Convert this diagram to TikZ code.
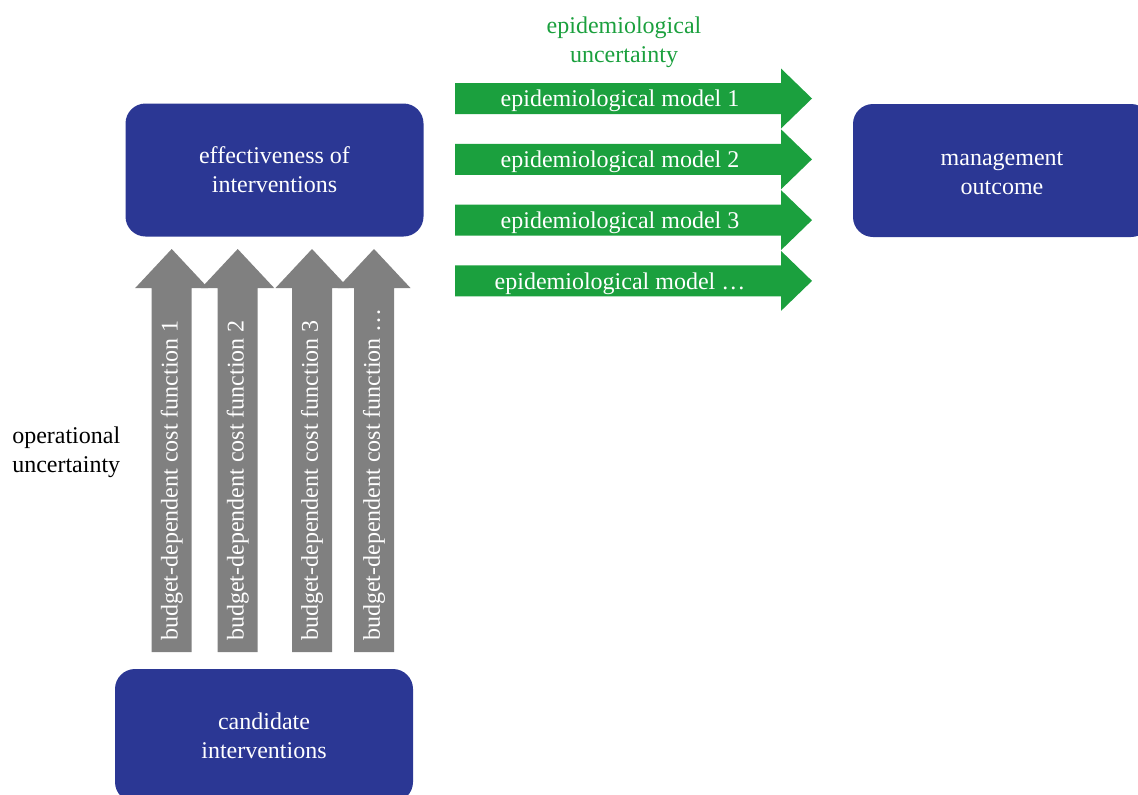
\documentclass[tikz,border=0pt]{standalone}
\usepackage{fontspec}
\setmainfont{Liberation Serif}
\definecolor{boxblue}{RGB}{43,55,148}
\definecolor{epigreen}{RGB}{27,160,62}
\definecolor{opgray}{RGB}{128,128,128}
\begin{document}
\begin{tikzpicture}[x=0.75pt,y=-0.75pt,
  font=\fontsize{18}{21.75}\selectfont,
  box/.style={fill=boxblue, rounded corners=15pt, text=white, align=center,
    minimum width=223.5pt, minimum height=99.75pt, inner sep=0pt},
  lbl/.style={text=white, inner sep=0pt}]
\useasboundingbox (0,0) rectangle (1138,794);
\clip (0,0) rectangle (1138,794);

% green arrows (epidemiological models)
\foreach \i/\t in {1/1,2/2,3/3,4/…} {
  \pgfmathsetmacro\yc{98.5+60.8*(\i-1)}
  \fill[epigreen] (455,\yc-15.5) -- (781,\yc-15.5) -- (781,\yc-30) -- (812,\yc)
     -- (781,\yc+30) -- (781,\yc+15.5) -- (455,\yc+15.5) -- cycle;
  \node[lbl] (epi\i) at (620,\yc+2.5) {epidemiological model \t};
}

% gray arrows (cost functions)
\foreach \i/\xc/\t in {1/171.7/1,2/237.7/2,3/312/3,4/374/…} {
  \fill[opgray] (\xc-20,652) -- (\xc-20,288) -- (\xc-36.5,288) -- (\xc,249)
     -- (\xc+36.5,288) -- (\xc+20,288) -- (\xc+20,652) -- cycle;
  \node[lbl, rotate=90, anchor=west] (cost\i) at (\xc,641) {budget-dependent cost function \t};
}

\node[text=epigreen, align=center, inner sep=0pt] (epiunc) at (624,42.5) {epidemiological\\uncertainty};
\node[align=left, anchor=west, inner sep=0pt] (opunc) at (12,452) {operational\\uncertainty};

\node[box] (eff) at (274.5,170) {effectiveness of\\interventions};
\node[box] (mgmt) at (1002,170.5) {};
\node[lbl, align=center] (mgmttext) at ([yshift=-2pt]mgmt.center) {management\\outcome};
\node[box] (cand) at (264,735.5) {candidate\\interventions};
\end{tikzpicture}
\end{document}
